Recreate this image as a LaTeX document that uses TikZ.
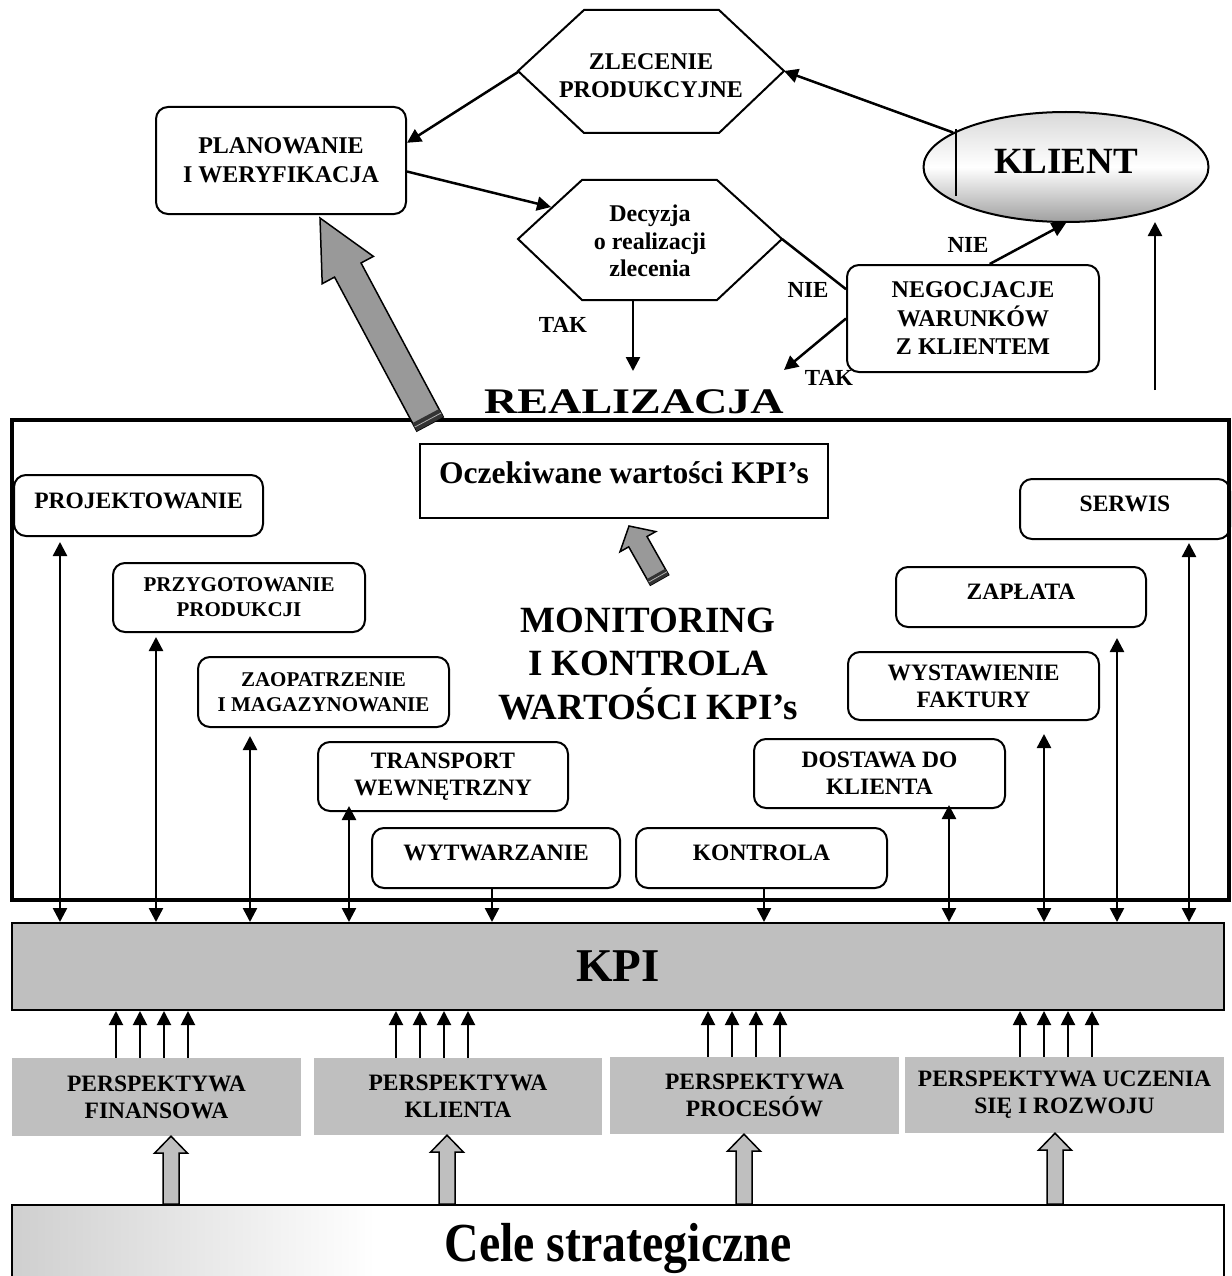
\documentclass[tikz,border=0pt]{standalone}
\usepackage{fontspec}
\setmainfont{Liberation Serif}
\usepackage{graphicx}
\usetikzlibrary{arrows.meta,calc,shapes.geometric}
\pgfdeclarehorizontalshading{celeshade}{100bp}{color(0bp)=(gray!85); color(18bp)=(gray!55); color(40bp)=(white); color(90bp)=(white); color(97bp)=(gray!40); color(100bp)=(gray!90)}
% block arrow: #1 base, #2 tip, #3 shaft half width, #4 head half width, #5 head length, #6 style
\newcommand{\blockarrow}[6]{%
  \path (#1) coordinate (bA) (#2) coordinate (bT);
  \path ($(bT)!#5!(bA)$) coordinate (bH);
  \draw[#6] ($(bA)!#3!90:(bT)$) -- ($(bH)!#3!-90:(bA)$) -- ($(bH)!#4!-90:(bA)$) -- (bT)
    -- ($(bH)!#4!90:(bA)$) -- ($(bH)!#3!90:(bA)$) -- ($(bA)!#3!-90:(bT)$) -- cycle;
}
% dark end band of the last block arrow: #1 half width, #2 length
\newcommand{\darkend}[2]{%
  \path ($(bA)!#2!(bT)$) coordinate (bE);
  \path ($(bA)!0.5!(bE)$) coordinate (bF);
  \fill[black!80] ($(bA)!#1!90:(bT)$) -- ($(bA)!#1!-90:(bT)$) -- ($(bE)!#1!-90:(bT)$) -- ($(bE)!#1!90:(bT)$) -- cycle;
  \draw[gray!60, line width=0.8pt] ($(bF)!#1!90:(bT)$) -- ($(bF)!#1!-90:(bT)$);
}
\begin{document}
\begin{tikzpicture}[x=1pt,y=-1pt,
  lbl/.style={font=\fontsize{23.5}{27}\selectfont\bfseries, align=center},
  lblsm/.style={font=\fontsize{21}{25}\selectfont\bfseries, align=center},
  rbox/.style={draw, line width=2pt, rounded corners=12pt, inner sep=0pt},
  one/.style={text depth=10pt},
  pbox/.style={fill=gray!50, lbl, inner sep=0pt},
  arr/.style={line width=2.5pt, -{Triangle[length=14pt,width=14pt]}},
  dbl/.style={line width=2.5pt, {Triangle[length=14pt,width=14pt]}-{Triangle[length=14pt,width=14pt]}},
  hexa/.style={draw, line width=2pt},
  yesno/.style={font=\fontsize{23}{26}\selectfont\bfseries},
]
\useasboundingbox (0,0) rectangle (1231,1276);

% ---------------- top part ----------------
\node[rbox, lbl, font=\fontsize{24}{29}\selectfont\bfseries, minimum width=250pt, minimum height=107pt] (plan) at (281,160.5) {PLANOWANIE\\I WERYFIKACJA};

\draw[hexa] (518,71) -- (584,10) -- (719,10) -- (784,71) -- (719,133) -- (584,133) -- cycle;
\node[lbl, font=\fontsize{24}{28}\selectfont\bfseries] (zlec) at (651,76) {ZLECENIE\\PRODUKCYJNE};
\coordinate (zL) at (518,72);
\coordinate (zR) at (784,71);

\draw[hexa] (518,239) -- (582,180) -- (717,180) -- (782,239) -- (717,300) -- (582,300) -- cycle;
\node[lbl, font=\fontsize{24}{27.5}\selectfont\bfseries] (dec) at (650,241) {Decyzja\\o realizacji\\zlecenia};
\coordinate (decIn) at (551,207);
\coordinate (decB) at (633,300);
\coordinate (decOut) at (633,371);
\coordinate (dR) at (782,239);

\node[ellipse, draw, line width=2pt, minimum width=285pt, minimum height=110pt, inner sep=0pt,
      top color=gray!30, bottom color=gray!75, middle color=white,
      font=\fontsize{37}{40}\selectfont\bfseries, text depth=12pt] (klient) at (1066,167) {KLIENT};
\draw[line width=1.5pt] (956,129) -- (956,196);

\node[rbox, lbl, font=\fontsize{24}{28.5}\selectfont\bfseries, minimum width=252pt, minimum height=107pt] (neg) at (973,318.5) {NEGOCJACJE\\WARUNKÓW\\Z KLIENTEM};
\coordinate (negTak) at (784,370);
\coordinate (rvB) at (1155,390);
\coordinate (rvT) at (1155,222);

\node[yesno] (tak1) at (563,325) {TAK};
\node[yesno] (nie1) at (808,290) {NIE};
\node[yesno] (tak2) at (829,378) {TAK};
\node[yesno] (nie2) at (968,245) {NIE};

\draw[arr] (klient.163) -- (zR);
\draw[arr] (zL) -- (plan.8);
\draw[arr] (plan.-5) -- (decIn);
\draw[arr] (decB) -- (decOut);
\draw[line width=2.5pt] (dR) -- (neg.167);
\draw[arr] (neg.west) -- (negTak);
\draw[arr] (neg.73) -- (klient.south);
\draw[arr] (rvB) -- (rvT);

\node[font=\fontsize{36}{40}\selectfont\bfseries, anchor=base, inner sep=0pt] (real) at (634,413) {\scalebox{1.28}[1]{REALIZACJA}};

% ---------------- frame ----------------
\draw[line width=4pt] (12,420) rectangle (1229,900);

\coordinate (bigbase) at (430,424);
\coordinate (bigtip) at (320,218);
\blockarrow{bigbase}{bigtip}{15pt}{29pt}{59pt}{draw, fill=gray!80, line width=1.5pt}
\darkend{15pt}{9pt}

\node[draw, line width=2pt, minimum width=408pt, minimum height=74pt, inner sep=0pt,
      font=\fontsize{31.5}{34}\selectfont\bfseries, text depth=16pt] (ocz) at (624,481) {Oczekiwane wartości KPI’s};
\coordinate (smbase) at (659.5,580);
\coordinate (smtip) at (629,526);
\blockarrow{smbase}{smtip}{10.5pt}{20.5pt}{18pt}{draw, fill=gray!80, line width=1.5pt}
\darkend{10.5pt}{7pt}

\node[font=\fontsize{37}{43.5}\selectfont\bfseries, align=center] (mon) at (648,664) {MONITORING\\I KONTROLA\\WARTOŚCI KPI’s};

\node[rbox, lbl, one, minimum width=249pt, minimum height=61pt] (proj) at (138.5,505.5) {PROJEKTOWANIE};
\node[rbox, lblsm, minimum width=252pt, minimum height=69pt] (przy) at (239,597.5) {PRZYGOTOWANIE\\PRODUKCJI};
\node[rbox, lblsm, minimum width=251pt, minimum height=70pt] (zaop) at (323.5,692) {ZAOPATRZENIE\\I MAGAZYNOWANIE};
\node[rbox, lbl, minimum width=250pt, minimum height=69pt] (trans) at (443,776.5) {TRANSPORT\\WEWNĘTRZNY};
\node[rbox, lbl, one, minimum width=248pt, minimum height=60pt] (wytw) at (496,858) {WYTWARZANIE};
\node[rbox, lbl, one, minimum width=251pt, minimum height=60pt] (kontr) at (761.5,858) {KONTROLA};
\node[rbox, lbl, minimum width=251pt, minimum height=69pt] (dost) at (879.5,773.5) {DOSTAWA DO\\KLIENTA};
\node[rbox, lbl, minimum width=251pt, minimum height=68pt] (wyst) at (973.5,686) {WYSTAWIENIE\\FAKTURY};
\node[rbox, lbl, one, minimum width=250pt, minimum height=60pt] (zapl) at (1021,597) {ZAPŁATA};
\node[rbox, lbl, one, minimum width=210pt, minimum height=60pt] (serw) at (1125,509) {SERWIS};

% ---------------- KPI ----------------
\node[draw, fill=gray!50, line width=2pt, minimum width=1212pt, minimum height=87pt, inner sep=0pt,
      font=\fontsize{47}{50}\selectfont\bfseries] (kpi) at (618,966.5) {KPI};

\foreach \bx/\cx/\gap in {proj/60/5, przy/156/4, zaop/250/8, trans/349/-6, dost/949/-4, wyst/1044/13, zapl/1117/10, serw/1189/3}{
  \coordinate (col) at (\cx,0);
  \draw[dbl, shorten <=\gap pt] (\bx.south -| col) -- (kpi.north -| col);
}
\foreach \bx/\cx in {wytw/492, kontr/764}{
  \coordinate (col) at (\cx,0);
  \draw[arr] (\bx.south -| col) -- (kpi.north -| col);
}

% ---------------- perspectives ----------------
\node[pbox, minimum width=289pt, minimum height=78pt] (pf) at (156.5,1097) {PERSPEKTYWA\\FINANSOWA};
\node[pbox, minimum width=288pt, minimum height=77pt] (pk) at (458,1096.5) {PERSPEKTYWA\\KLIENTA};
\node[pbox, minimum width=289pt, minimum height=77pt] (pp) at (754.5,1095.5) {PERSPEKTYWA\\PROCESÓW};
\node[pbox, minimum width=319pt, minimum height=76pt] (pu) at (1064.5,1095) {PERSPEKTYWA UCZENIA\\SIĘ I ROZWOJU};

\foreach \bx/\cx in {pf/116, pf/140, pf/164, pf/188, pk/396, pk/420, pk/444, pk/468,
                     pp/708, pp/732, pp/756, pp/780, pu/1020, pu/1044, pu/1068, pu/1092}{
  \coordinate (col) at (\cx,0);
  \draw[arr, line width=2pt] (\bx.north -| col) -- (kpi.south -| col);
}

% ---------------- strategic goals ----------------
\node[draw, line width=2pt, shading=celeshade, minimum width=1212pt, minimum height=86pt, inner sep=0pt,
      anchor=base, font=\fontsize{55}{60}\selectfont\bfseries] (cele) at (618,1261) {\scalebox{0.87}[1]{Cele strategiczne}};

\foreach \bx/\cx in {pf/171, pk/447, pp/744, pu/1055}{
  \coordinate (col) at (\cx,0);
  \blockarrow{cele.north -| col}{\bx.south -| col}{8pt}{16.5pt}{17pt}{draw, fill=gray!50, line width=1.5pt}
}
\end{tikzpicture}
\end{document}
